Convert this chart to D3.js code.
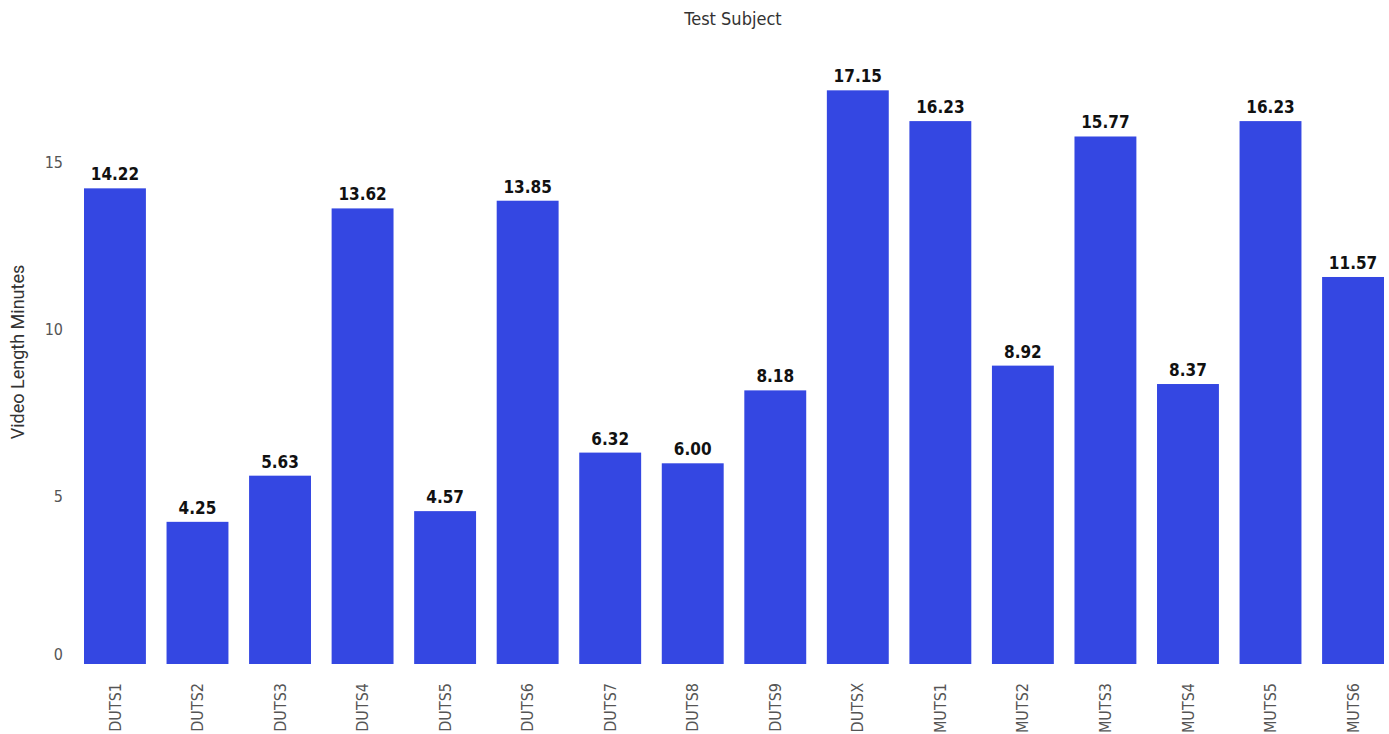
<!DOCTYPE html>
<html>
<head>
<meta charset="utf-8">
<script src="https://cdn.jsdelivr.net/npm/d3@7"></script>
<style>
  html, body { margin: 0; padding: 0; background: #ffffff; }
  svg { display: block; }
</style>
</head>
<body>
<svg id="chart" width="1389" height="734"></svg>
<script>
// Video length per test subject
const subjects = ["DUTS1","DUTS2","DUTS3","DUTS4","DUTS5","DUTS6","DUTS7","DUTS8","DUTS9","DUTSX",
                  "MUTS1","MUTS2","MUTS3","MUTS4","MUTS5","MUTS6"];
const minutes = [14.22, 4.25, 5.63, 13.62, 4.57, 13.85, 6.32, 6.00, 8.18, 17.15,
                 16.23, 8.92, 15.77, 8.37, 16.23, 11.57];
const yTicks = [0, 5, 10, 15];

const font = "'DejaVu Sans Condensed', 'Liberation Sans Narrow', Roboto, sans-serif";
const svg = d3.select("#chart");

const x = d3.scaleBand()
  .domain(subjects)
  .range([84, 1384])
  .paddingInner(0.25)
  .paddingOuter(0);

const y = d3.scaleLinear()
  .domain([0, 19])
  .range([664, 664 - 19 * 33.45]);

// Bars
svg.append("g")
  .selectAll("rect")
  .data(subjects)
  .join("rect")
  .attr("x", d => x(d))
  .attr("y", (d, i) => y(minutes[i]))
  .attr("width", x.bandwidth())
  .attr("height", (d, i) => y(0) - y(minutes[i]))
  .attr("fill", "#3447e2");

// Value labels
svg.append("g")
  .selectAll("text")
  .data(subjects)
  .join("text")
  .attr("x", d => x(d) + x.bandwidth() / 2)
  .attr("y", (d, i) => y(minutes[i]) - 8)
  .attr("text-anchor", "middle")
  .attr("font-family", font)
  .attr("font-size", 17)
  .attr("font-weight", "bold")
  .attr("fill", "#111")
  .text((d, i) => minutes[i].toFixed(2));

// Y axis (labels only)
const yAxis = d3.axisLeft(y).tickValues(yTicks).tickSize(0).tickPadding(0);
const gy = svg.append("g").attr("transform", "translate(63,0)").call(yAxis);
gy.select(".domain").remove();
gy.selectAll("text")
  .attr("font-family", font)
  .attr("font-size", 16)
  .attr("fill", "#555");
// keep the zero label clear of the baseline
gy.selectAll(".tick").filter(d => d === 0).select("text").attr("y", -10);

// X axis (rotated labels)
const xAxis = d3.axisBottom(x).tickSize(0).tickPadding(0);
const gx = svg.append("g").attr("transform", "translate(0,681)").call(xAxis);
gx.select(".domain").remove();
gx.selectAll("text")
  .attr("font-family", font)
  .attr("font-size", 16)
  .attr("fill", "#555")
  .attr("text-anchor", "end")
  .attr("dy", "0.35em")
  .attr("transform", "rotate(-90)")
  .attr("x", -2)
  .attr("y", 0);

// Axis titles
svg.append("text")
  .attr("x", 733)
  .attr("y", 25)
  .attr("text-anchor", "middle")
  .attr("font-family", font)
  .attr("font-size", 18)
  .attr("fill", "#333")
  .text("Test Subject");

svg.append("text")
  .attr("transform", "translate(24,352) rotate(-90)")
  .attr("text-anchor", "middle")
  .attr("font-family", "Roboto, 'Open Sans', sans-serif")
  .attr("font-size", 18)
  .attr("fill", "#333")
  .text("Video Length Minutes");
</script>
</body>
</html>
